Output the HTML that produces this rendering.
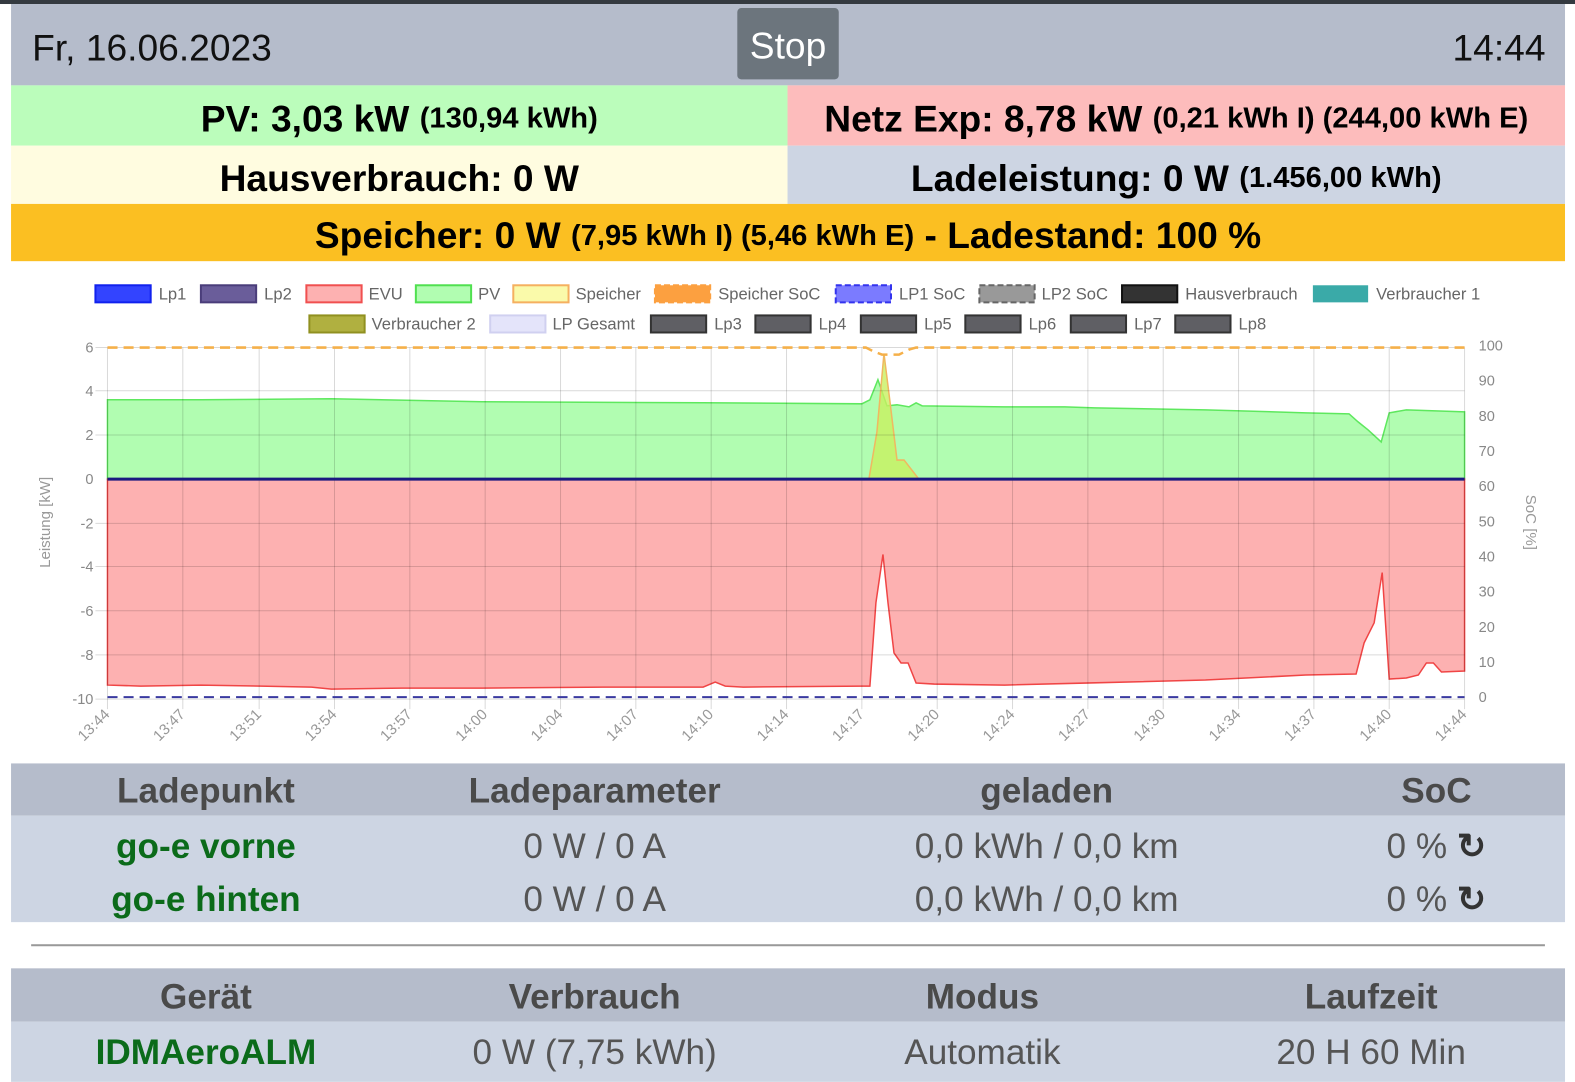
<!DOCTYPE html>
<html><head><meta charset="utf-8"><style>
*{margin:0;padding:0;box-sizing:border-box}
body{width:1575px;height:1080px;background:#fff;font-family:"Liberation Sans",sans-serif;position:relative;overflow:hidden}
#w{position:absolute;left:0;top:0;width:1568px;height:1076px;transform:scale(1.0045);transform-origin:0 0}
.a{position:absolute}
.c{display:flex;align-items:center;justify-content:center;font-weight:bold;color:#000;white-space:nowrap;padding-top:7px}
.small{font-size:29px}
.th{font-weight:bold;color:#4a4a4a;font-size:35px;text-align:center;position:absolute;transform:translateX(-50%);white-space:nowrap}
.td{color:#555;font-size:35px;text-align:center;position:absolute;transform:translateX(-50%);white-space:nowrap}
.g{color:#0b6b1a;font-weight:bold}
</style></head><body><div id="w">
<div class="a" style="left:0;top:0;width:1575px;height:4px;background:#343a40"></div>
<div class="a" style="left:11px;top:4px;width:1547px;height:81px;background:#b5bccb"></div>
<div class="a" style="left:32px;top:27px;font-size:37px;color:#111">Fr, 16.06.2023</div>
<div class="a c" style="left:734px;top:8px;width:101px;height:71px;background:#6c757d;border-radius:4px;color:#fff;font-weight:normal;font-size:37px;padding-top:4px">Stop</div>
<div class="a" style="left:1446px;top:27px;font-size:37px;color:#111">14:44</div>

<div class="a c" style="left:11px;top:85px;width:773px;height:60px;background:#bbfdbb;font-size:37px">PV: 3,03 kW&nbsp;<span class="small">(130,94 kWh)</span></div>
<div class="a c" style="left:784px;top:85px;width:774px;height:60px;background:#fdbcbc;font-size:37px">Netz Exp: 8,78 kW&nbsp;<span class="small">(0,21 kWh I) (244,00 kWh E)</span></div>
<div class="a c" style="left:11px;top:145px;width:773px;height:58px;background:#fffce0;font-size:37px">Hausverbrauch: 0 W</div>
<div class="a c" style="left:784px;top:145px;width:774px;height:58px;background:#cdd5e3;font-size:37px">Ladeleistung: 0 W&nbsp;<span class="small">(1.456,00 kWh)</span></div>
<div class="a c" style="left:11px;top:203px;width:1547px;height:57px;background:#fbbf22;font-size:37px">Speicher: 0 W&nbsp;<span class="small">(7,95 kWh I) (5,46 kWh E)</span>&nbsp;- Ladestand: 100 %</div>

<svg class="a" style="left:0;top:260px" width="1575" height="500" viewBox="0 260 1575 500" font-family="Liberation Sans, sans-serif">
<g font-size="16.5" fill="#666">
<rect x="95" y="284" width="55" height="17" fill="#3344ff" stroke="#1122ee" stroke-width="2"/><text x="158" y="298">Lp1</text>
<rect x="200" y="284" width="55" height="17" fill="#6a5d9a" stroke="#4a3d7a" stroke-width="2"/><text x="263" y="298">Lp2</text>
<rect x="305" y="284" width="55" height="17" fill="#fdb1b1" stroke="#f05050" stroke-width="2"/><text x="367" y="298">EVU</text>
<rect x="414" y="284" width="55" height="17" fill="#b1fdb1" stroke="#50e050" stroke-width="2"/><text x="476" y="298">PV</text>
<rect x="511" y="284" width="55" height="17" fill="#fafaaa" stroke="#f5b060" stroke-width="2"/><text x="573" y="298">Speicher</text>
<rect x="652" y="284" width="55" height="17" fill="#fca040" stroke="#fca040" stroke-width="2" stroke-dasharray="6 3"/><text x="715" y="298">Speicher SoC</text>
<rect x="832" y="284" width="55" height="17" fill="#7b7bff" stroke="#3333ee" stroke-width="2" stroke-dasharray="6 3"/><text x="895" y="298">LP1 SoC</text>
<rect x="975" y="284" width="55" height="17" fill="#999" stroke="#666" stroke-width="2" stroke-dasharray="6 3"/><text x="1037" y="298">LP2 SoC</text>
<rect x="1117" y="284" width="55" height="17" fill="#333" stroke="#111" stroke-width="2"/><text x="1180" y="298">Hausverbrauch</text>
<rect x="1307" y="284" width="55" height="17" fill="#3aaaa8"/><text x="1370" y="298">Verbraucher 1</text>
<rect x="308" y="314" width="55" height="17" fill="#b0b040" stroke="#909020" stroke-width="2"/><text x="370" y="328">Verbraucher 2</text>
<rect x="488" y="314" width="55" height="17" fill="#e4e4fa" stroke="#d0d0f0" stroke-width="2"/><text x="550" y="328">LP Gesamt</text>
<g fill="#5f5f64" stroke="#333" stroke-width="2">
<rect x="648" y="314" width="55" height="17"/><rect x="752" y="314" width="55" height="17"/><rect x="857" y="314" width="55" height="17"/><rect x="961" y="314" width="55" height="17"/><rect x="1066" y="314" width="55" height="17"/><rect x="1170" y="314" width="55" height="17"/></g>
<text x="711" y="328">Lp3</text><text x="815" y="328">Lp4</text><text x="920" y="328">Lp5</text><text x="1024" y="328">Lp6</text><text x="1129" y="328">Lp7</text><text x="1233" y="328">Lp8</text>
</g>
<path d="M107,477 L107,398 L200,398 L330,397 L480,400 L700,401 L858,402 L866,398 L874,378 L883,404 L893,403 L905,405 L912,401 L918,404 L1000,405 L1060,405 L1090,406 L1200,408 L1300,411 L1343,412 L1352,420 L1362,428 L1375,440 L1383,411 L1400,408 L1458,410 L1458,477 Z" fill="#b1fdb1" stroke="#5ee85e" stroke-width="1.5"/>
<path d="M865,477 L873,430 L880,352 L886,400 L893,458 L900,458 L914,476 Z" fill="#c8f060" fill-opacity="0.8" stroke="#f0b860" stroke-width="1.5"/>
<path d="M107,477 L107,682 L140,683 L200,682 L260,683 L310,684 L330,686 L400,685 L480,685 L600,684 L700,684 L712,679 L722,683 L740,684 L858,683 L866,683 L872,600 L879,552 L884,600 L890,650 L897,660 L904,660 L912,680 L930,681 L1000,682 L1080,680 L1200,677 L1300,672 L1350,671 L1358,640 L1368,620 L1376,570 L1383,676 L1400,675 L1412,672 L1420,660 L1427,660 L1435,669 L1458,668 L1458,477 Z" fill="#fdb1b1" stroke="#f04545" stroke-width="1.5"/>
<g stroke="#000" stroke-opacity="0.15" stroke-width="1">
<line x1="95" y1="346" x2="1458" y2="346"/><line x1="95" y1="389" x2="1458" y2="389"/><line x1="95" y1="433" x2="1458" y2="433"/><line x1="95" y1="521" x2="1458" y2="521"/><line x1="95" y1="564" x2="1458" y2="564"/><line x1="95" y1="608" x2="1458" y2="608"/><line x1="95" y1="652" x2="1458" y2="652"/><line x1="95" y1="696" x2="1458" y2="696"/>
<line x1="107" y1="346" x2="107" y2="706"/><line x1="182" y1="346" x2="182" y2="706"/><line x1="258" y1="346" x2="258" y2="706"/><line x1="333" y1="346" x2="333" y2="706"/><line x1="408" y1="346" x2="408" y2="706"/><line x1="483" y1="346" x2="483" y2="706"/><line x1="558" y1="346" x2="558" y2="706"/><line x1="633" y1="346" x2="633" y2="706"/><line x1="708" y1="346" x2="708" y2="706"/><line x1="783" y1="346" x2="783" y2="706"/><line x1="858" y1="346" x2="858" y2="706"/><line x1="933" y1="346" x2="933" y2="706"/><line x1="1008" y1="346" x2="1008" y2="706"/><line x1="1083" y1="346" x2="1083" y2="706"/><line x1="1158" y1="346" x2="1158" y2="706"/><line x1="1233" y1="346" x2="1233" y2="706"/><line x1="1308" y1="346" x2="1308" y2="706"/><line x1="1383" y1="346" x2="1383" y2="706"/><line x1="1458" y1="346" x2="1458" y2="706"/>
</g>
<line x1="107" y1="477" x2="1458" y2="477" stroke="#1a1a80" stroke-width="3"/>
<line x1="107" y1="694" x2="1458" y2="694" stroke="#3a3aa0" stroke-width="2" stroke-dasharray="10 6"/>
<path d="M107,346 L862,346 L870,350 L878,353 L895,353 L905,348 L912,346 L1458,346" fill="none" stroke="#f5b04a" stroke-width="2.5" stroke-dasharray="10 6"/>
<g font-size="14.5" fill="#888" text-anchor="end">
<text x="93" y="351">6</text><text x="93" y="394">4</text><text x="93" y="438">2</text><text x="93" y="482">0</text><text x="93" y="526">-2</text><text x="93" y="569">-4</text><text x="93" y="613">-6</text><text x="93" y="657">-8</text><text x="93" y="701">-10</text>
</g>
<g font-size="14.5" fill="#888">
<text x="1472" y="349">100</text><text x="1472" y="384">90</text><text x="1472" y="419">80</text><text x="1472" y="454">70</text><text x="1472" y="489">60</text><text x="1472" y="524">50</text><text x="1472" y="559">40</text><text x="1472" y="594">30</text><text x="1472" y="629">20</text><text x="1472" y="664">10</text><text x="1472" y="699">0</text>
</g>
<text transform="translate(50,520) rotate(-90)" font-size="15" fill="#999" text-anchor="middle">Leistung [kW]</text>
<text transform="translate(1519,520) rotate(90)" font-size="15" fill="#999" text-anchor="middle">SoC [%]</text>
<g font-size="15" fill="#999" text-anchor="end">
<text transform="translate(110,712) rotate(-45)">13:44</text>
<text transform="translate(185,712) rotate(-45)">13:47</text>
<text transform="translate(261,712) rotate(-45)">13:51</text>
<text transform="translate(336,712) rotate(-45)">13:54</text>
<text transform="translate(411,712) rotate(-45)">13:57</text>
<text transform="translate(486,712) rotate(-45)">14:00</text>
<text transform="translate(561,712) rotate(-45)">14:04</text>
<text transform="translate(636,712) rotate(-45)">14:07</text>
<text transform="translate(711,712) rotate(-45)">14:10</text>
<text transform="translate(786,712) rotate(-45)">14:14</text>
<text transform="translate(861,712) rotate(-45)">14:17</text>
<text transform="translate(936,712) rotate(-45)">14:20</text>
<text transform="translate(1011,712) rotate(-45)">14:24</text>
<text transform="translate(1086,712) rotate(-45)">14:27</text>
<text transform="translate(1161,712) rotate(-45)">14:30</text>
<text transform="translate(1236,712) rotate(-45)">14:34</text>
<text transform="translate(1311,712) rotate(-45)">14:37</text>
<text transform="translate(1386,712) rotate(-45)">14:40</text>
<text transform="translate(1461,712) rotate(-45)">14:44</text>
</g>
</svg>

<div class="a" style="left:11px;top:760px;width:1547px;height:52px;background:#b5bccb"></div>
<div class="a" style="left:11px;top:812px;width:1547px;height:106px;background:#cdd5e3"></div>
<div class="th" style="left:205px;top:768px">Ladepunkt</div>
<div class="th" style="left:592px;top:768px">Ladeparameter</div>
<div class="th" style="left:1042px;top:768px">geladen</div>
<div class="th" style="left:1430px;top:768px">SoC</div>
<div class="td g" style="left:205px;top:823px">go-e vorne</div>
<div class="td" style="left:592px;top:823px">0 W / 0 A</div>
<div class="td" style="left:1042px;top:823px">0,0 kWh / 0,0 km</div>
<div class="td" style="left:1430px;top:823px">0 % <b style="color:#333">&#x21BB;</b></div>
<div class="td g" style="left:205px;top:876px">go-e hinten</div>
<div class="td" style="left:592px;top:876px">0 W / 0 A</div>
<div class="td" style="left:1042px;top:876px">0,0 kWh / 0,0 km</div>
<div class="td" style="left:1430px;top:876px">0 % <b style="color:#333">&#x21BB;</b></div>

<div class="a" style="left:31px;top:940px;width:1507px;height:2px;background:#999"></div>

<div class="a" style="left:11px;top:964px;width:1547px;height:53px;background:#b5bccb"></div>
<div class="a" style="left:11px;top:1017px;width:1547px;height:60px;background:#cdd5e3"></div>
<div class="th" style="left:205px;top:973px">Gerät</div>
<div class="th" style="left:592px;top:973px">Verbrauch</div>
<div class="th" style="left:978px;top:973px">Modus</div>
<div class="th" style="left:1365px;top:973px">Laufzeit</div>
<div class="td g" style="left:205px;top:1028px">IDMAeroALM</div>
<div class="td" style="left:592px;top:1028px">0 W (7,75 kWh)</div>
<div class="td" style="left:978px;top:1028px">Automatik</div>
<div class="td" style="left:1365px;top:1028px">20 H 60 Min</div>
</div></body></html>
